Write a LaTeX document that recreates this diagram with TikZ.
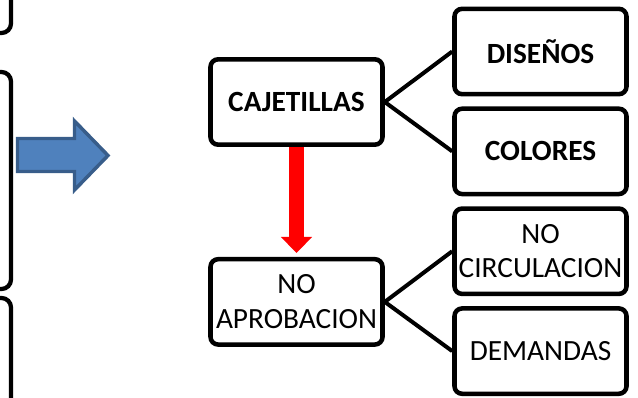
\documentclass[tikz,border=0pt]{standalone}
\usepackage{fontspec}
\setmainfont{Carlito}
\usepackage{tikz}
\usetikzlibrary{
  arrows.meta,
  positioning,  % Function "of" (e.g. [below=of x])
}
\definecolor{myblue}{HTML}{4F81BD}
\definecolor{mybluedark}{HTML}{385D8A}
\def\mybw{129pt}
\def\mybh{64pt}
\def\myvdist{82.5pt}
\def\myndist{7.5pt}
\tikzset{
  font=\fontsize{22}{26}\selectfont,
  >=stealth,
  my box/.style={
    draw,
    line width=3.4pt,
    rounded corners=2mm,
    minimum width=\mybw,
    minimum height=\mybh,
    inner sep=0.5mm,
    align=center,
    rectangle
  },
  my box bold/.style={
    my box,
    font=\fontsize{22}{26}\selectfont\bfseries
  },
  my link/.style={
    line width=3pt
  },
  my edge/.style={
    line width=3.2pt,
    rounded corners=2.5mm
  },
  % thick red arrow between the two left boxes
  my red arrow/.style={
    draw=red,
    line width=11.25pt,
    shorten >=3pt,
    -{Triangle[width=23.5pt,length=12pt,line width=0pt]}
  },
  my block arrow/.style={
    fill=myblue,
    draw=mybluedark,
    line width=2.6pt,
    line join=miter
  }
}

\begin{document}
\begin{tikzpicture}[x=0.75pt,y=-0.75pt]
\useasboundingbox (0,0) rectangle (638,397);
\clip (0,0) rectangle (638,397);
% boxes cut off at the left border
\draw[my edge] (-100,-100) rectangle (11,33);
\draw[my edge] (-100,72) rectangle (11,289);
\draw[my edge] (-100,298) rectangle (11,500);
% blue block arrow
\draw[my block arrow] (17.5,138.5) -- (74.5,138.5) -- (74.5,121) -- (108,155.5)
  -- (74.5,190) -- (74.5,171.5) -- (17.5,171.5) -- cycle;
% left column
\node[my box bold] (cajetillas) at (296.5,102) {CAJETILLAS};
\node[my box]      (noaprob) [below=\myvdist of cajetillas] {NO\\APROBACION};
% right column
\node[my box bold] (disenos)  at (540.5,51.5)              {DISEÑOS};
\node[my box bold] (colores)  [below=\myndist of disenos]  {COLORES};
\node[my box]      (nocirc)   [below=\myndist of colores]  {NO\\CIRCULACION};
\node[my box]      (demandas) [below=\myndist of nocirc]   {DEMANDAS};
\path[my link] (cajetillas.east) edge (disenos.west)
               (cajetillas.east) edge (colores.west)
               (noaprob.east)    edge (nocirc.west)
               (noaprob.east)    edge (demandas.west);
\draw[my red arrow] (cajetillas.south) -- (noaprob.north);
\end{tikzpicture}
\end{document}
